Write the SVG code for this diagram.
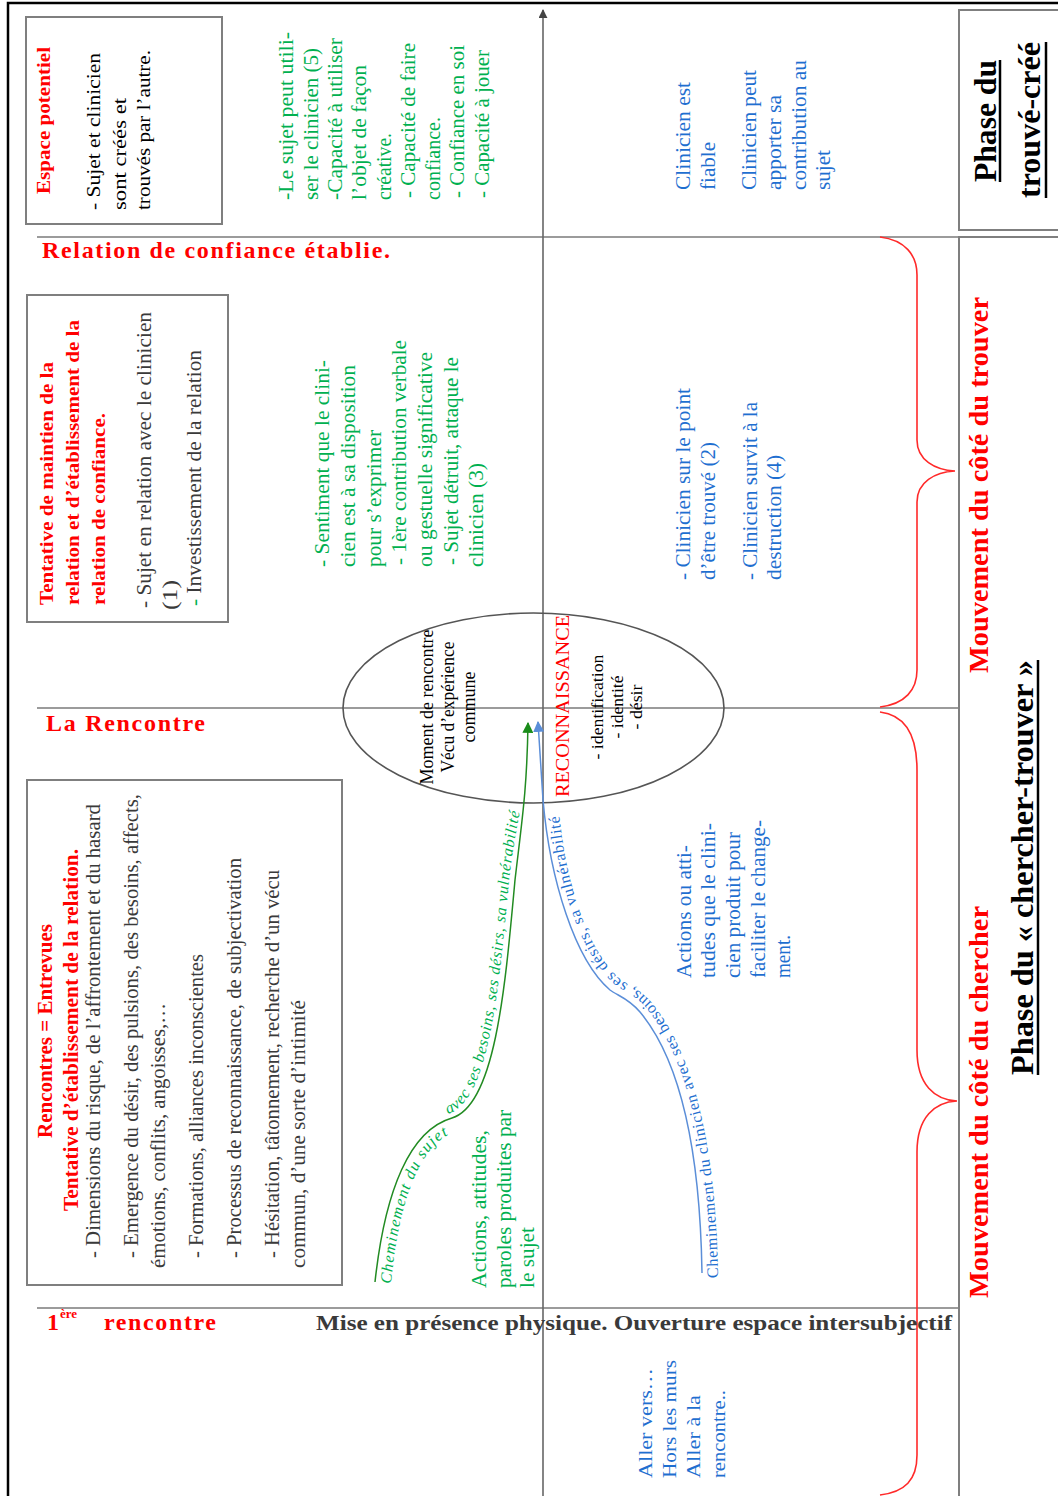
<svg xmlns="http://www.w3.org/2000/svg" width="1058" height="1496" viewBox="0 0 1058 1496">
<defs>
<style>
text{font-family:"Liberation Serif","Times New Roman",serif;}
.red{fill:#ff0000}
.grn{fill:#00b050}
.blu{fill:#1f6fd0}
.blk{fill:#000}
.dk{fill:#3a3a3a}
.b{font-weight:bold}
.it{font-style:italic}
.box{fill:#fff;stroke:#7f7f7f;stroke-width:2}
.grid{stroke:#7a7a7a;stroke-width:1.6;fill:none}
.brace{fill:none;stroke:#ff2a2a;stroke-width:1.6}
.ul{stroke:#000;stroke-width:2.5}
</style>
<marker id="mK" viewBox="0 0 10 10" refX="9" refY="5" markerWidth="9" markerHeight="9" markerUnits="userSpaceOnUse" orient="auto"><path d="M0,0 L10,5 L0,10 z" fill="#444"/></marker>
<marker id="mG" viewBox="0 0 10 10" refX="9" refY="5" markerWidth="11" markerHeight="11" markerUnits="userSpaceOnUse" orient="auto"><path d="M0,0 L10,5 L0,10 z" fill="#1a8c1a"/></marker>
<marker id="mB" viewBox="0 0 10 10" refX="9" refY="5" markerWidth="11" markerHeight="11" markerUnits="userSpaceOnUse" orient="auto"><path d="M0,0 L10,5 L0,10 z" fill="#5b8ed8"/></marker>
<path id="pGL" d="M391,1284 C399,1195 422,1147 450,1134"/>
<path id="pGU" d="M448,1114 C489,1101 499,990 509,880 C514,840 518,822 521,806"/>
<path id="pB" d="M718,1278 C716,1150 695,1055 651,1002 C639,989 629,985 621,980 C587,952 565,880 559,812"/>
</defs>
<rect width="1058" height="1496" fill="#fff"/>

<g id="grid">
<path d="M8,1496 L8,3 L1058,3" fill="none" stroke="#000" stroke-width="2.5"/>
<line class="grid" x1="37" y1="237" x2="958" y2="237"/>
<line class="grid" x1="37" y1="708" x2="958" y2="708"/>
<line class="grid" x1="37" y1="1308" x2="958" y2="1308"/>
<line x1="543" y1="1496" x2="543" y2="10" stroke="#666" stroke-width="1.6" marker-end="url(#mK)"/>
<rect class="box" x="959" y="10" width="110" height="220"/>
<rect class="box" x="959" y="237" width="110" height="1270"/>
<path class="brace" d="M880,237 C905,240 917,255 917,275 L917,440 C917,460 935,470 955,471 C935,472 917,482 917,502 L917,670 C917,690 905,704 880,707"/>
<path class="brace" d="M880,712 C905,715 917,735 917,770 L917,1050 C917,1085 935,1100 957,1101 C935,1102 917,1117 917,1152 L917,1455 C917,1480 905,1492 880,1495"/>
</g>

<g id="espace-potentiel">
<rect class="box" x="26" y="17" width="196" height="207"/>
<g transform="rotate(-90)">
<text class="red b" font-size="18" x="-194" y="50" textLength="147" lengthAdjust="spacingAndGlyphs">Espace potentiel</text>
<g class="blk" font-size="19">
<text x="-210" y="100" textLength="157" lengthAdjust="spacingAndGlyphs">- Sujet et clinicien</text>
<text x="-210" y="126" textLength="112" lengthAdjust="spacingAndGlyphs">sont  créés et</text>
<text x="-210" y="150" textLength="160" lengthAdjust="spacingAndGlyphs">trouvés par l’autre.</text>
</g>
</g>
</g>

<g id="label-relation">
<text class="red b" font-size="24" x="42" y="258" textLength="348" lengthAdjust="spacing">Relation de confiance établie.</text>
</g>

<g id="texte-vert-haut" class="grn" font-size="20">
<g transform="rotate(-90)">
<text x="-200" y="293" textLength="168" lengthAdjust="spacingAndGlyphs">-Le sujet peut utili-</text>
<text x="-200" y="318" textLength="152" lengthAdjust="spacingAndGlyphs">ser le clinicien (5)</text>
<text x="-200" y="342" textLength="162" lengthAdjust="spacingAndGlyphs">-Capacité à utiliser</text>
<text x="-200" y="366" textLength="135" lengthAdjust="spacingAndGlyphs">l’objet de façon</text>
<text x="-200" y="391" textLength="67" lengthAdjust="spacingAndGlyphs">créative.</text>
<text x="-198" y="415" textLength="155" lengthAdjust="spacingAndGlyphs">- Capacité de faire</text>
<text x="-200" y="440" textLength="83" lengthAdjust="spacingAndGlyphs">confiance.</text>
<text x="-198" y="464" textLength="153" lengthAdjust="spacingAndGlyphs">- Confiance en soi</text>
<text x="-198" y="489" textLength="148" lengthAdjust="spacingAndGlyphs">- Capacité à jouer</text>
</g>
</g>

<g id="texte-bleu-haut" class="blu" font-size="20">
<g transform="rotate(-90)">
<text x="-190" y="690" textLength="108" lengthAdjust="spacingAndGlyphs">Clinicien est</text>
<text x="-190" y="715" textLength="48" lengthAdjust="spacingAndGlyphs">fiable</text>
<text x="-190" y="756" textLength="120" lengthAdjust="spacingAndGlyphs">Clinicien peut</text>
<text x="-190" y="781" textLength="95" lengthAdjust="spacingAndGlyphs">apporter sa</text>
<text x="-190" y="806" textLength="130" lengthAdjust="spacingAndGlyphs">contribution au</text>
<text x="-190" y="830" textLength="40" lengthAdjust="spacingAndGlyphs">sujet</text>
</g>
</g>

<g id="phase-trouve-cree">
<g transform="rotate(-90)" class="blk b" font-size="32" text-anchor="middle">
<text x="-121" y="996" textLength="122" lengthAdjust="spacingAndGlyphs">Phase du</text>
<text x="-120" y="1040" textLength="156" lengthAdjust="spacingAndGlyphs">trouvé-créé</text>
</g>
<line class="ul" x1="1000" y1="182" x2="1000" y2="60"/>
<line class="ul" x1="1046" y1="198" x2="1046" y2="42"/>
</g>

<g id="tentative">
<rect class="box" x="27" y="295" width="201" height="327"/>
<g transform="rotate(-90)">
<g class="red b" font-size="19">
<text x="-605" y="53" textLength="243" lengthAdjust="spacingAndGlyphs">Tentative de maintien de la</text>
<text x="-605" y="79" textLength="285" lengthAdjust="spacingAndGlyphs">relation et d’établissement de la</text>
<text x="-605" y="105" textLength="192" lengthAdjust="spacingAndGlyphs">relation de confiance.</text>
</g>
<g class="dk" font-size="20">
<text x="-608" y="151" textLength="296" lengthAdjust="spacingAndGlyphs">- Sujet en relation avec le clinicien</text>
<text x="-610" y="177" textLength="30" lengthAdjust="spacingAndGlyphs">(1)</text>
<text x="-606" y="201" textLength="256" lengthAdjust="spacingAndGlyphs"><tspan class="grn">-</tspan> Investissement de la relation</text>
</g>
</g>
</g>

<g id="texte-vert-milieu" class="grn" font-size="20">
<g transform="rotate(-90)">
<text x="-567" y="329" textLength="207" lengthAdjust="spacingAndGlyphs">- Sentiment que le clini-</text>
<text x="-567" y="355" textLength="202" lengthAdjust="spacingAndGlyphs">cien est à sa disposition</text>
<text x="-567" y="381" textLength="137" lengthAdjust="spacingAndGlyphs">pour s’exprimer</text>
<text x="-565" y="406" textLength="225" lengthAdjust="spacingAndGlyphs">- 1ère contribution verbale</text>
<text x="-567" y="432" textLength="215" lengthAdjust="spacingAndGlyphs">ou gestuelle significative</text>
<text x="-565" y="458" textLength="208" lengthAdjust="spacingAndGlyphs">- Sujet détruit, attaque le</text>
<text x="-567" y="483" textLength="104" lengthAdjust="spacingAndGlyphs">clinicien (3)</text>
</g>
</g>

<g id="texte-bleu-milieu" class="blu" font-size="20">
<g transform="rotate(-90)">
<text x="-580" y="690" textLength="192" lengthAdjust="spacingAndGlyphs">- Clinicien sur le point</text>
<text x="-580" y="715" textLength="138" lengthAdjust="spacingAndGlyphs">d’être trouvé (2)</text>
<text x="-580" y="757" textLength="178" lengthAdjust="spacingAndGlyphs">- Clinicien survit à la</text>
<text x="-580" y="781" textLength="125" lengthAdjust="spacingAndGlyphs">destruction (4)</text>
</g>
</g>

<g id="label-la-rencontre">
<text class="red b" font-size="24" x="46" y="731" textLength="159" lengthAdjust="spacing">La Rencontre</text>
</g>

<g id="moment-rencontre">
<ellipse cx="533.5" cy="708" rx="190.5" ry="95" fill="none" stroke="#555" stroke-width="1.6"/>
<g transform="rotate(-90)">
<g class="blk" font-size="18" text-anchor="middle">
<text x="-707" y="433" textLength="155" lengthAdjust="spacingAndGlyphs">Moment de rencontre</text>
<text x="-707" y="454" textLength="131" lengthAdjust="spacingAndGlyphs">Vécu d’expérience</text>
<text x="-707" y="475" textLength="71" lengthAdjust="spacingAndGlyphs">commune</text>
</g>
<text class="red" font-size="18" x="-797" y="569" textLength="182" lengthAdjust="spacingAndGlyphs">RECONNAISSANCE</text>
<g class="blk" font-size="17" text-anchor="middle">
<text x="-707" y="603" textLength="105" lengthAdjust="spacingAndGlyphs">- identification</text>
<text x="-707" y="623" textLength="63" lengthAdjust="spacingAndGlyphs">- identité</text>
<text x="-707" y="642" textLength="45" lengthAdjust="spacingAndGlyphs">- désir</text>
</g>
</g>
</g>

<g id="rencontres">
<rect class="box" x="27" y="780" width="315" height="505"/>
<g transform="rotate(-90)">
<g class="red b" font-size="20" text-anchor="middle">
<text x="-1031" y="52" textLength="214" lengthAdjust="spacingAndGlyphs">Rencontres = Entrevues</text>
<text x="-1030" y="78" textLength="362" lengthAdjust="spacingAndGlyphs">Tentative d’établissement de la relation.</text>
</g>
<g class="dk" font-size="20">
<text x="-1258" y="100" textLength="454" lengthAdjust="spacingAndGlyphs">- Dimensions du risque, de l’affrontement et du hasard</text>
<text x="-1258" y="138" textLength="464" lengthAdjust="spacingAndGlyphs">- Emergence du désir, des pulsions, des besoins, affects,</text>
<text x="-1268" y="165" textLength="265" lengthAdjust="spacingAndGlyphs">émotions, conflits, angoisses,…</text>
<text x="-1258" y="203" textLength="304" lengthAdjust="spacingAndGlyphs">- Formations, alliances inconscientes</text>
<text x="-1258" y="241" textLength="400" lengthAdjust="spacingAndGlyphs">- Processus de reconnaissance, de subjectivation</text>
<text x="-1258" y="279" textLength="388" lengthAdjust="spacingAndGlyphs">- Hésitation, tâtonnement, recherche d’un vécu</text>
<text x="-1268" y="305" textLength="268" lengthAdjust="spacingAndGlyphs">commun, d’une sorte d’intimité</text>
</g>
</g>
</g>

<g id="actions-sujet" class="grn" font-size="20">
<g transform="rotate(-90)">
<text x="-1288" y="486" textLength="158" lengthAdjust="spacingAndGlyphs">Actions, attitudes,</text>
<text x="-1288" y="511" textLength="178" lengthAdjust="spacingAndGlyphs">paroles produites par</text>
<text x="-1288" y="534" textLength="61" lengthAdjust="spacingAndGlyphs">le sujet</text>
</g>
</g>

<g id="actions-clinicien" class="blu" font-size="20">
<g transform="rotate(-90)">
<text x="-978" y="691" textLength="133" lengthAdjust="spacingAndGlyphs">Actions ou atti-</text>
<text x="-978" y="715" textLength="155" lengthAdjust="spacingAndGlyphs">tudes que le clini-</text>
<text x="-978" y="740" textLength="146" lengthAdjust="spacingAndGlyphs">cien produit pour</text>
<text x="-978" y="765" textLength="158" lengthAdjust="spacingAndGlyphs">faciliter le change-</text>
<text x="-978" y="790" textLength="43" lengthAdjust="spacingAndGlyphs">ment.</text>
</g>
</g>

<g id="label-1ere-rencontre" class="red b">
<text font-size="24" x="47" y="1330">1</text>
<text font-size="13" x="60" y="1318">ère</text>
<text font-size="24" x="104" y="1330" textLength="112" lengthAdjust="spacing">rencontre</text>
</g>

<g id="label-mise-en-presence">
<text class="dk b" font-size="22" x="316" y="1330" textLength="636" lengthAdjust="spacingAndGlyphs">Mise en présence  physique. Ouverture espace intersubjectif</text>
</g>

<g id="aller-vers" class="blu" font-size="19">
<g transform="rotate(-90)">
<text x="-1478" y="652" textLength="110" lengthAdjust="spacingAndGlyphs">Aller vers…</text>
<text x="-1478" y="676" textLength="118" lengthAdjust="spacingAndGlyphs">Hors les murs</text>
<text x="-1478" y="700" textLength="83" lengthAdjust="spacingAndGlyphs">Aller à la</text>
<text x="-1478" y="725" textLength="88" lengthAdjust="spacingAndGlyphs">rencontre..</text>
</g>
</g>

<g id="mouvement-trouver">
<text class="red b" font-size="28" transform="rotate(-90)" x="-673" y="988" textLength="376" lengthAdjust="spacingAndGlyphs">Mouvement du côté du trouver</text>
</g>

<g id="mouvement-chercher">
<text class="red b" font-size="28" transform="rotate(-90)" x="-1298" y="988" textLength="392" lengthAdjust="spacingAndGlyphs">Mouvement du côté du chercher</text>
</g>

<g id="phase-chercher-trouver">
<text class="blk b" font-size="32" transform="rotate(-90)" x="-1075" y="1033" textLength="415" lengthAdjust="spacingAndGlyphs">Phase du « chercher-trouver »</text>
<line class="ul" x1="1038" y1="1075" x2="1038" y2="660"/>
</g>

<g id="connectors">
<path d="M375,1282 C385,1190 410,1130 452,1118 C495,1105 505,990 515,880 C522,820 527,790 528,723" fill="none" stroke="#228b22" stroke-width="1.5" marker-end="url(#mG)"/>
<path d="M702,1273 C700,1150 680,1060 640,1012 C628,998 618,996 610,990 C575,960 550,880 543,800 L538,722" fill="none" stroke="#5b8ed8" stroke-width="1.5" marker-end="url(#mB)"/>
<text class="grn it" font-size="16"><textPath href="#pGL" textLength="165" lengthAdjust="spacing">Cheminement du sujet</textPath></text>
<text class="grn it" font-size="16"><textPath href="#pGU" textLength="318" lengthAdjust="spacing">avec ses besoins, ses désirs, sa vulnérabilité</textPath></text>
<text class="blu" font-size="16"><textPath href="#pB" textLength="505" lengthAdjust="spacing">Cheminement du clinicien avec ses besoins, ses désirs, sa vulnérabilité</textPath></text>
</g>
</svg>
